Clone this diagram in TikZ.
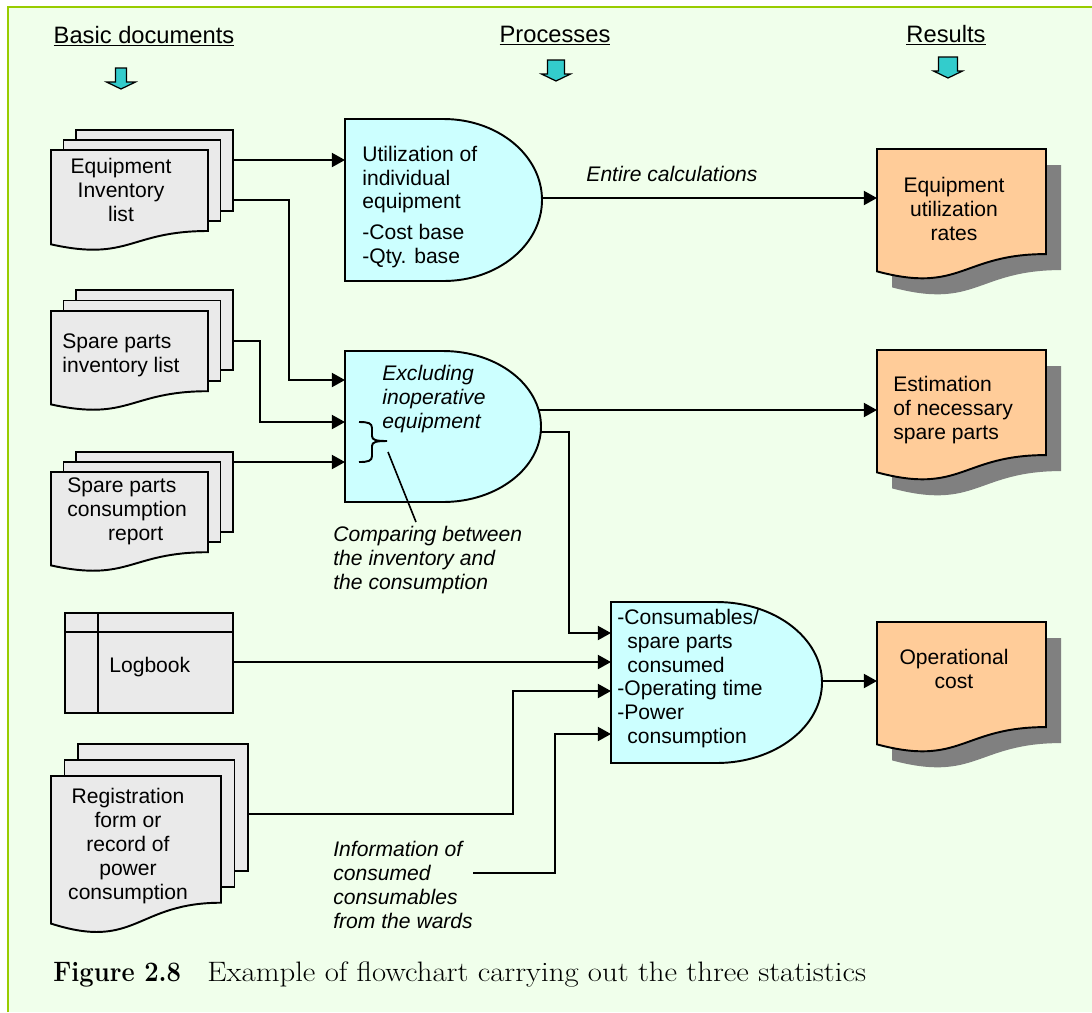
\documentclass[tikz,border=0pt]{standalone}
\usepackage{fontspec}
\setsansfont{Liberation Sans}
\usetikzlibrary{arrows.meta}

\definecolor{bggreen}{RGB}{240,255,235}
\definecolor{bgline}{RGB}{153,204,0}
\definecolor{docgray}{RGB}{234,234,234}
\definecolor{proccyan}{RGB}{204,255,255}
\definecolor{resorange}{RGB}{255,204,153}
\definecolor{shadowgray}{RGB}{128,128,128}
\definecolor{arrowcyan}{RGB}{51,204,204}

\tikzset{
  docsheet/.style={draw, line width=1.1pt, fill=docgray},
  procbox/.style={draw, line width=1.1pt, fill=proccyan},
  resdoc/.style={draw, line width=1.1pt, fill=resorange},
  dropshadow/.style={draw=none, fill=shadowgray},
  downarrow/.style={draw, line width=0.7pt, fill=arrowcyan},
  link/.style={line width=1.1pt, -{Triangle[length=7.5pt,width=8pt]}},
  txt/.style={inner sep=0pt, font=\sffamily\fontsize{12}{13.6}\selectfont},
  itxt/.style={inner sep=0pt, font=\sffamily\itshape\fontsize{12}{13.6}\selectfont},
  headtxt/.style={inner sep=0pt, font=\sffamily\fontsize{13.5}{15}\selectfont},
  captxt/.style={inner sep=0pt, font=\rmfamily\fontsize{16}{18}\selectfont},
}

% document sheet with a wavy bottom: style, x0, y0, width, height
\newcommand{\docshape}[5]{%
  \draw[#1] (#2,#3) -- ({#2+#4},#3) -- ({#2+#4},{#3+0.802*#5})
    .. controls ({#2+0.5*#4},{#3+0.802*#5}) and ({#2+0.5*#4},{#3+1.107*#5})
    .. (#2,{#3+0.934*#5}) -- cycle;}

% stack of three sheets: x0, y0, width, height, dx, dy
\newcommand{\multidoc}[6]{%
  \draw[docsheet] ({#1+2*#5},{#2-2*#6}) rectangle ({#1+#3+2*#5},{#2+0.802*#4-2*#6});
  \draw[docsheet] ({#1+#5},{#2-#6}) rectangle ({#1+#3+#5},{#2+0.802*#4-#6});
  \docshape{docsheet}{#1}{#2}{#3}{#4}}

% delay box: x0, y0, width, height
\newcommand{\delayshape}[4]{%
  \draw[procbox] (#1,#2) -- ({#1+0.5*#3},#2)
    .. controls ({#1+0.776*#3},#2) and ({#1+#3},{#2+0.224*#4}) .. ({#1+#3},{#2+0.5*#4})
    .. controls ({#1+#3},{#2+0.776*#4}) and ({#1+0.776*#3},{#2+#4}) .. ({#1+0.5*#3},{#2+#4})
    -- (#1,{#2+#4}) -- cycle;}

% block arrow pointing down: xc, ytop, half shaft
\newcommand{\blockarrow}[3]{%
  \draw[downarrow] ({#1-#3},#2) -- ({#1+#3},#2) -- ({#1+#3},{#2+14}) -- ({#1+14.5},{#2+14})
    -- (#1,{#2+21}) -- ({#1-14.5},{#2+14}) -- ({#1-#3},{#2+14}) -- cycle;}

\begin{document}
\begin{tikzpicture}[x=0.02cm,y=-0.02cm]
  \useasboundingbox (0,0) rectangle (1092,1012);
  \fill[bggreen] (8,7) rectangle (1092,1012);
  \draw[bgline, line width=1.2pt] (8,1012) -- (8,7) -- (1092,7);

  % column heads
  \node[headtxt, anchor=base] (hdocs) at (144,43) {\underline{Basic documents}};
  \node[headtxt, anchor=base] (hproc) at (555,42) {\underline{Processes}};
  \node[headtxt, anchor=base] (hres) at (946,42) {\underline{Results}};
  \blockarrow{121}{68}{5.5}
  \blockarrow{556}{60}{8.5}
  \blockarrow{948}{57}{9.5}

  % basic documents
  \multidoc{51}{150}{157}{101}{12.5}{10}
  \node[txt, align=center] (eqtxt) at (121,190) {Equipment\\Inventory\\list};
  \multidoc{51}{311}{157}{100}{12.5}{10.5}
  \node[txt, align=left, anchor=west] (sptxt) at (62,355) {Spare parts\\inventory list};
  \multidoc{51}{472}{157}{100}{12.5}{10}
  \node[txt, align=left, anchor=west] (sctxt) at (67,511.5)
    {Spare parts\\consumption\\\hspace*{1.93em}report};
  \draw[docsheet] (65,613) rectangle (233,713);
  \draw[line width=1.1pt] (65,632) -- (233,632) (98,613) -- (98,713);
  \node[txt, anchor=west] (logtxt) at (109,667) {Logbook};
  \multidoc{51}{776}{170}{158}{13.5}{16}
  \node[txt, align=center] (regtxt) at (128,846)
    {Registration\\form or\\record of\\power\\consumption};

  % processes
  \delayshape{345}{119}{197}{162}
  \node[txt, align=left, anchor=west] (p1txt) at (362,207)
    {Utilization of\\individual\\equipment\\[4pt]-Cost base\\-Qty. base};
  \delayshape{345}{351}{196}{151}
  \node[itxt, align=left, anchor=west] (p2txt) at (382,399)
    {Excluding\\inoperative\\equipment};
  \delayshape{611}{602}{211}{161}
  \node[txt, align=left, anchor=west] (p3txt) at (617,678.5)
    {-Consumables/\\\hspace*{0.47em}spare parts\\\hspace*{0.47em}consumed\\-Operating time\\-Power\\\hspace*{0.47em}consumption};

  % results
  \docshape{dropshadow}{892}{165}{169}{131}
  \docshape{resdoc}{877}{149}{169}{131}
  \node[txt, align=center] (r1txt) at (954,209) {Equipment\\utilization\\rates};
  \docshape{dropshadow}{892}{366}{169}{131}
  \docshape{resdoc}{877}{350}{169}{131}
  \node[txt, align=left, anchor=west] (r2txt) at (893,410) {Estimation\\of necessary\\spare parts};
  \docshape{dropshadow}{892}{638}{169}{131}
  \docshape{resdoc}{877}{622}{169}{131}
  \node[txt, align=center] (r3txt) at (954,669) {Operational\\cost};

  % ports
  \coordinate (eqA) at (233,160);
  \coordinate (eqB) at (233,200);
  \coordinate (spA) at (233,341);
  \coordinate (scA) at (233,462);
  \coordinate (logA) at (233,662);
  \coordinate (regA) at (247,814);
  \coordinate (p1in) at (345,160);
  \coordinate (p2inA) at (345,380);
  \coordinate (p2inB) at (345,422);
  \coordinate (p2inC) at (345,462);
  \coordinate (p1out) at (542,198);
  \coordinate (p2outA) at (539,410);
  \coordinate (p2outB) at (540,432);
  \coordinate (p3inA) at (611,633);
  \coordinate (p3inB) at (611,662);
  \coordinate (p3inC) at (611,691);
  \coordinate (p3inD) at (611,734);
  \coordinate (p3out) at (822,681);
  \coordinate (r1in) at (877,198);
  \coordinate (r2in) at (877,410);
  \coordinate (r3in) at (877,681);
  \coordinate (infoEnd) at (473,873);
  \coordinate (braceTip) at (388,452);
  \coordinate (cmpEnd) at (416,522);

  % connectors
  \draw[link] (eqA) -- (p1in);
  \draw[link] (eqB) -- ++(56,0) |- (p2inA);
  \draw[link] (spA) -- ++(27,0) |- (p2inB);
  \draw[link] (scA) -- (p2inC);
  \draw[link] (p1out) -- (r1in);
  \draw[link] (p2outA) -- (r2in);
  \draw[link] (p2outB) -- ++(29,0) |- (p3inA);
  \draw[link] (logA) -- (p3inB);
  \draw[link] (regA) -- ++(266,0) |- (p3inC);
  \draw[link] (infoEnd) -- ++(82,0) |- (p3inD);
  \draw[link] (p3out) -- (r3in);

  % brace and its note
  \draw[line width=1.1pt] (359,422) .. controls (368,422) and (372,423) .. (372,428) -- (372,436)
    .. controls (372,440) and (376,441) .. (387,441) .. controls (376,441) and (372,442) .. (372,446)
    -- (372,456) .. controls (372,461) and (368,462) .. (359,462);
  \draw[line width=0.9pt] (braceTip) -- (cmpEnd);

  % labels
  \node[itxt] (calclbl) at (672,174) {Entire calculations};
  \node[itxt, align=left, anchor=west] (cmplbl) at (333,560)
    {Comparing between\\the inventory and\\the consumption};
  \node[itxt, align=left, anchor=west] (infolbl) at (333,885)
    {Information of\\consumed\\consumables\\from the wards};

  % caption
  \node[captxt, anchor=base west, xscale=0.91] (figno) at (53,981) {\bfseries Figure 2.8};
  \node[captxt, anchor=base west, xscale=1.095] (figcap) at (207,981)
    {Example of flowchart carrying out the three statistics};
\end{tikzpicture}
\end{document}
